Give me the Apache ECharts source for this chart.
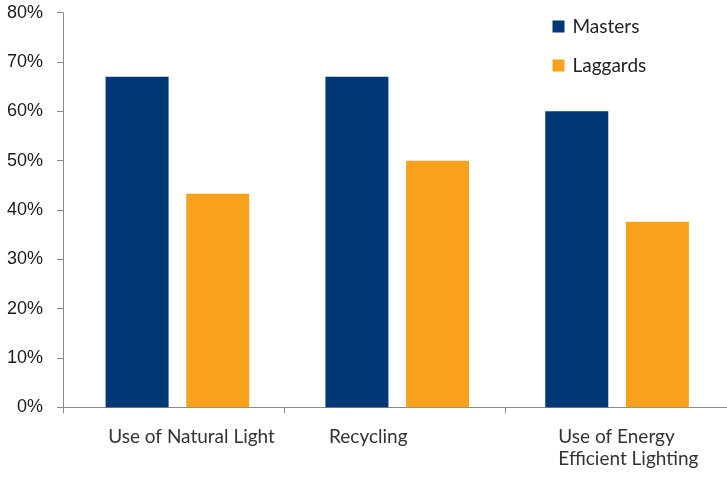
<!DOCTYPE html>
<html>
<head>
<meta charset="utf-8">
<title>Masters vs Laggards</title>
<script src="https://cdn.jsdelivr.net/npm/echarts@6/dist/echarts.min.js"></script>
<style>
  html, body { margin: 0; padding: 0; background: #ffffff; }
  #chart { width: 727px; height: 477px; }
</style>
</head>
<body>
<div id="chart"></div>
<script>
// Share of companies using each practice, in percent
const categories = ['Use of Natural Light', 'Recycling', 'Use of Energy\nEfficient Lighting'];
const seriesNames = ['Masters', 'Laggards'];
const masters = [67, 67, 60];
const laggards = [43.3, 50, 37.6];
const yTicks = [0, 10, 20, 30, 40, 50, 60, 70, 80];

const NAVY = '#003876';
const ORANGE = '#F7A11D';
const AXIS = '#8a8a8a';
const LABEL_FONT = 'Lato, "Noto Sans", sans-serif';

// Left-aligned category labels: each block is centred on its tick, so its width sets the left edge
const labelWidths = [131, 132, 116];
const rich = {};
labelWidths.forEach((w, i) => {
  rich['c' + i] = {
    width: w,
    align: 'left',
    fontFamily: LABEL_FONT,
    fontSize: 19,
    lineHeight: 22,
    color: '#333333'
  };
});

const chart = echarts.init(document.getElementById('chart'), null, { renderer: 'canvas' });

chart.setOption({
  animation: false,
  backgroundColor: '#ffffff',
  legend: {
    orient: 'vertical',
    left: 547.5,
    top: 11.5,
    itemWidth: 12,
    itemHeight: 12,
    itemGap: 19,
    icon: 'rect',
    textStyle: {
      fontFamily: LABEL_FONT,
      fontSize: 19,
      lineHeight: 20,
      color: '#222222',
      padding: [0, 0, 0, 3]
    },
    data: seriesNames
  },
  grid: [
    // visible axes
    { left: 63, right: 0, top: 12.7, bottom: 69.7, containLabel: false },
    // bar layout grid, a little wider and offset to the right of the axis grid
    { left: 67.5, right: -8, top: 12.7, bottom: 69.7, containLabel: false }
  ],
  xAxis: [
    {
      type: 'category',
      gridIndex: 0,
      data: categories,
      boundaryGap: true,
      axisLine: { lineStyle: { color: AXIS, width: 1 } },
      axisTick: { show: true, length: 6, alignWithLabel: false, lineStyle: { color: AXIS } },
      axisLabel: {
        margin: 19,
        interval: 0,
        formatter: (value, index) =>
          value.split('\n').map(line => '{c' + index + '|' + line + '}').join('\n'),
        rich: rich
      },
      splitLine: { show: false }
    },
    {
      type: 'category',
      gridIndex: 1,
      data: categories,
      show: false
    }
  ],
  yAxis: [
    {
      type: 'value',
      gridIndex: 0,
      min: 0,
      max: 80,
      interval: 10,
      axisLine: { show: true, lineStyle: { color: AXIS, width: 1 } },
      axisTick: { show: true, length: 6, lineStyle: { color: AXIS } },
      splitLine: { show: false },
      axisLabel: {
        margin: 20,
        fontFamily: '"Liberation Sans", Arial, sans-serif',
        fontSize: 18,
        color: '#1a1a1a',
        formatter: v => (yTicks.indexOf(v) >= 0 ? v + '%' : '')
      }
    },
    {
      type: 'value',
      gridIndex: 1,
      min: 0,
      max: 80,
      interval: 10,
      show: false
    }
  ],
  series: [
    {
      name: seriesNames[0],
      type: 'bar',
      xAxisIndex: 1,
      yAxisIndex: 1,
      data: masters,
      barWidth: 63,
      barGap: '28%',
      itemStyle: { color: NAVY }
    },
    {
      name: seriesNames[1],
      type: 'bar',
      xAxisIndex: 1,
      yAxisIndex: 1,
      data: laggards,
      barWidth: 63,
      barGap: '28%',
      itemStyle: { color: ORANGE }
    }
  ]
});
</script>
</body>
</html>
